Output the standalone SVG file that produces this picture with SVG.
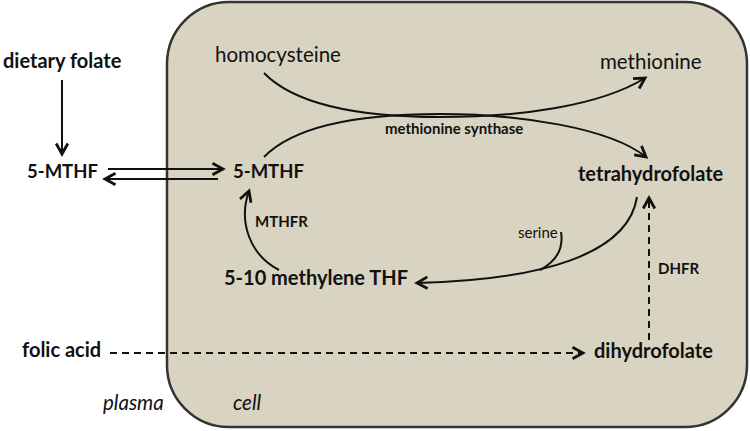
<svg xmlns="http://www.w3.org/2000/svg" width="750" height="431" viewBox="0 0 750 431">
<defs>
<marker id="ah" markerUnits="userSpaceOnUse" markerWidth="14" markerHeight="14" viewBox="-1 -1 12 12" refX="9" refY="5" orient="auto" overflow="visible">
<path d="M0,0 L9,5 L0,10" fill="none" stroke="#111" stroke-width="2.4" stroke-linejoin="miter"/>
</marker>
</defs>
<style>
text{font-family:Lato,"Liberation Sans",sans-serif;fill:#111}
.b{font-weight:bold;font-size:20px}
.m{font-weight:bold;font-size:18.5px}
.r{font-size:20.5px}
.s{font-weight:bold;font-size:15px}
.i{font-style:italic;font-size:20.5px}
.c{fill:none;stroke:#111;stroke-width:2}
.d{fill:none;stroke:#111;stroke-width:2;stroke-dasharray:7 5}
</style>
<rect x="0" y="0" width="750" height="431" fill="#fff"/>
<g id="cell"><rect x="167" y="2" width="580" height="425" rx="62" ry="62" fill="#d9d4c1" stroke="#333" stroke-width="2.5"/></g>
<g id="connectors">
<path class="c" d="M62,80 L62,154" marker-end="url(#ah)"/>
<path class="c" d="M108,169 L223,169" marker-end="url(#ah)"/>
<path class="c" d="M218,179 L105,179" marker-end="url(#ah)"/>
<path class="c" d="M264,73 C300,110 380,117 440,117 C520,117 600,106 645,78" marker-end="url(#ah)"/>
<path class="c" d="M264,157 C300,120 380,114 440,114 C520,114 610,128 646,157" marker-end="url(#ah)"/>
<path class="c" d="M279,270 C250,255 238,222 249,191" marker-end="url(#ah)"/>
<path class="c" d="M637,197 C628,255 540,280 417,283" marker-end="url(#ah)"/>
<path class="c" d="M561,232 C564,250 555,262 540,270"/>
<path class="d" d="M649,340 L649,198" marker-end="url(#ah)"/>
<path class="d" d="M110,353 L583,353" marker-end="url(#ah)"/>
</g>
<g id="dietary-folate"><text class="b" x="3" y="68">dietary folate</text></g>
<g id="mthf-plasma"><text class="m" x="27" y="178">5-MTHF</text></g>
<g id="mthf-cell"><text class="m" x="233" y="178">5-MTHF</text></g>
<g id="homocysteine"><text class="r" x="215" y="62">homocysteine</text></g>
<g id="methionine"><text class="r" x="600" y="69">methionine</text></g>
<g id="methionine-synthase"><text class="s" x="385" y="134" font-size="16.5">methionine synthase</text></g>
<g id="tetrahydrofolate"><text class="b" x="578" y="181">tetrahydrofolate</text></g>
<g id="mthfr"><text class="s" x="255" y="227">MTHFR</text></g>
<g id="methylene-thf"><text class="b" x="224" y="285" font-size="19.4">5-10 methylene THF</text></g>
<g id="serine"><text x="518" y="238" font-size="15">serine</text></g>
<g id="dhfr"><text class="s" x="658" y="274">DHFR</text></g>
<g id="folic-acid"><text class="b" x="22" y="357">folic acid</text></g>
<g id="dihydrofolate"><text class="b" x="594" y="358">dihydrofolate</text></g>
<g id="plasma"><text class="i" x="103" y="410">plasma</text></g>
<g id="cell-label"><text class="i" x="233" y="410">cell</text></g>
</svg>
